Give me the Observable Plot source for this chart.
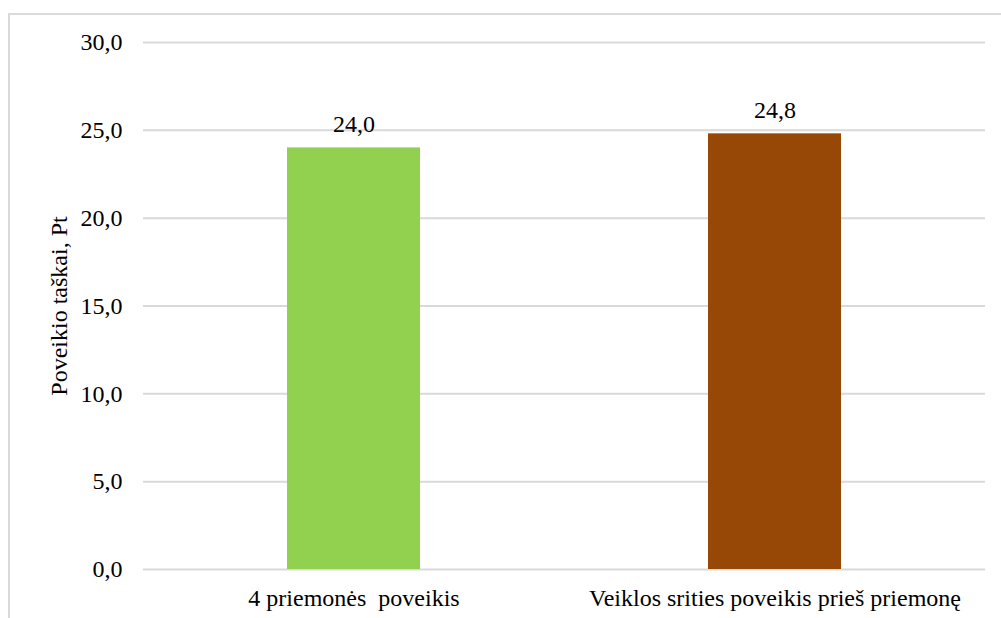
<!DOCTYPE html>
<html>
<head>
<meta charset="utf-8">
<script src="https://cdn.jsdelivr.net/npm/d3@7"></script>
<script src="https://cdn.jsdelivr.net/npm/@observablehq/plot@0.6"></script>
<style>
  html, body { margin: 0; padding: 0; background: #fff; }
  #wrap { position: relative; width: 1001px; height: 618px; overflow: hidden; }
  #border { position: absolute; left: 8px; top: 13px; width: 1100px; height: 700px;
            border: 2px solid #dadada; box-sizing: border-box; }
  #chart { position: absolute; left: 0; top: 0; }
</style>
</head>
<body>
<div id="wrap"><div id="border"></div><div id="chart"></div></div>
<script>
const categories = ["4 priemonės  poveikis", "Veiklos srities poveikis prieš priemonę"];
const values = [24.0, 24.8];
const colors = ["#92D050", "#974706"];
const yTicks = [0, 5, 10, 15, 20, 25, 30];
const yLabel = "Poveikio taškai, Pt";

const data = categories.map((c, i) => ({category: c, value: values[i], color: colors[i]}));
const fmt = d => d.toFixed(1).replace(".", ",");
const font = "Liberation Serif";
const fs = 24;

const chart = Plot.plot({
  width: 1001,
  height: 618,
  marginLeft: 143,
  marginRight: 16,
  marginTop: 42,
  marginBottom: 49,
  style: {fontFamily: font, fontSize: fs + "px", color: "#000", background: "transparent"},
  x: {domain: categories, paddingInner: 0.684, paddingOuter: 0.342, axis: null},
  y: {domain: [0, 30], axis: null},
  marks: [
    // horizontal gridlines
    Plot.ruleY(yTicks, {stroke: "#d9d9d9", strokeWidth: 2}),
    Plot.barY(data, {x: "category", y: "value", fill: "color"}),
    // value labels above the bars
    Plot.text(data, {x: "category", y: "value", text: d => fmt(d.value), dy: -23.5,
                     fontSize: fs, fontFamily: font, fill: "#000"}),
    // category labels under the baseline
    Plot.text(data, {x: "category", y: 0, text: "category", dy: 29, fontSize: fs,
                     fontFamily: font, fill: "#000"}),
    Plot.axisY({ticks: yTicks, tickFormat: fmt, tickSize: 0, tickPadding: 21,
                fontSize: fs, fontFamily: font, label: null}),
    // rotated y-axis title, centred on the plot area
    Plot.text([yLabel], {frameAnchor: "left", textAnchor: "middle", dx: -84, rotate: -90,
                         fontSize: fs, fontFamily: font, fill: "#000"})
  ]
});
document.getElementById("chart").appendChild(chart);
</script>
</body>
</html>
